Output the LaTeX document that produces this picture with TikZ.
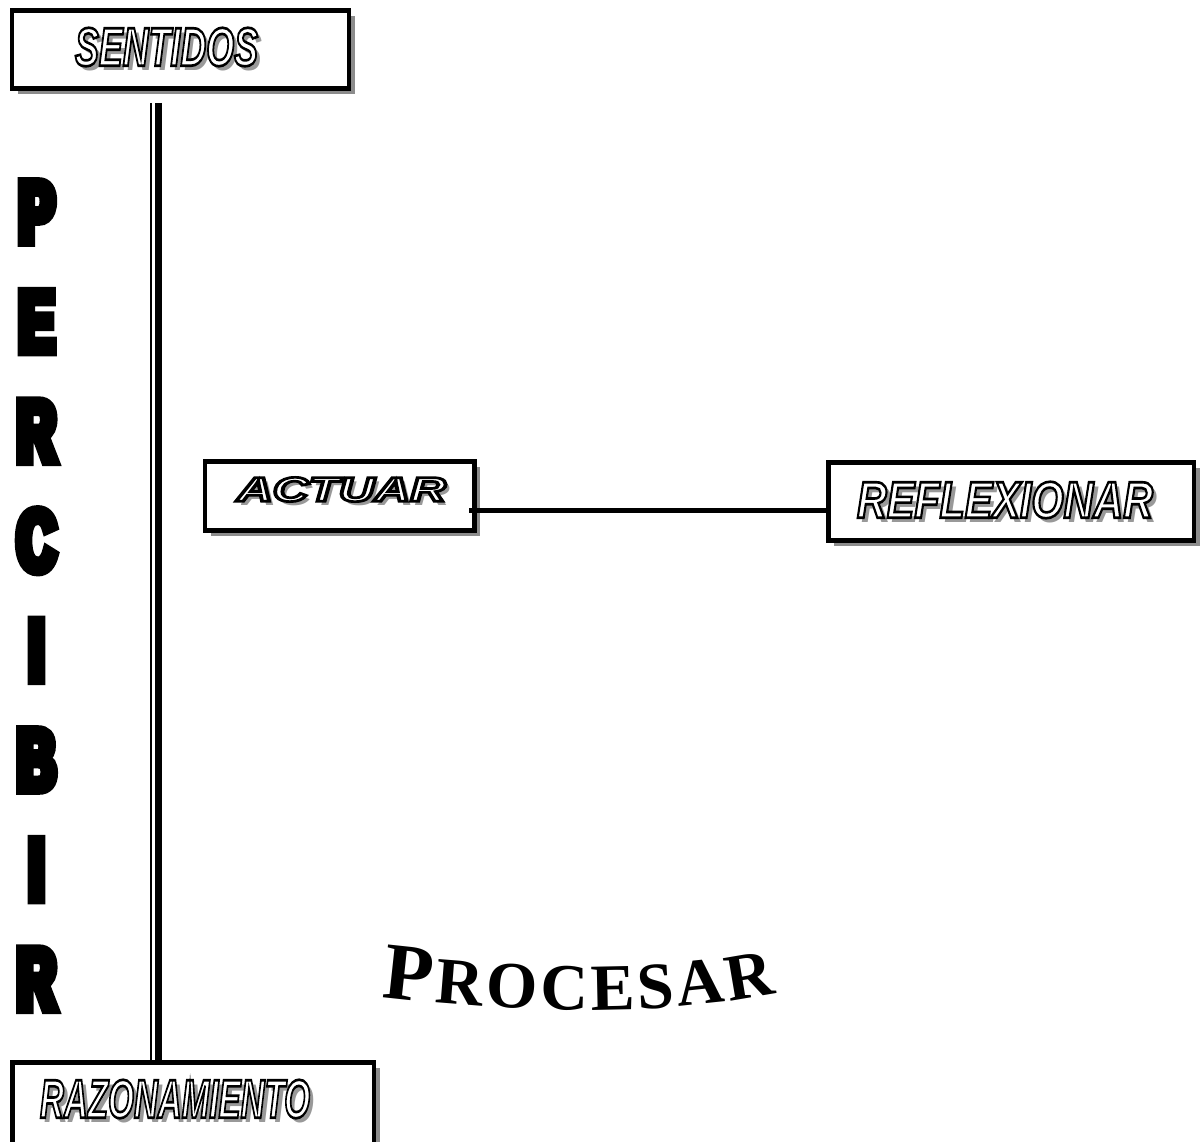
\documentclass[tikz,border=0pt]{standalone}
\usepackage{fontspec}
\usepackage{graphicx}
\usetikzlibrary{shadows,decorations.text,fadings}
\setmainfont{Liberation Serif}
\newfontfamily\boxfont{Liberation Sans}
\newfontfamily\percfont[FakeStretch=0.605]{Liberation Sans}
\newfontfamily\procfont{Liberation Serif}
\newcommand\outlineon{\special{pdf:literal direct 2 Tr 2.5 w 1 1 1 rg 0 0 0 RG}}
\newcommand\outlineoff{\special{pdf:literal direct 0 Tr 0.4 w 0 0 0 rg 0 0 0 RG}}
\newcommand\heavyon{\special{pdf:literal direct 2 Tr 10 w 0 0 0 rg 0 0 0 RG}}
\newcommand\boxword[4]{\resizebox{#1}{#2}{\boxfont\bfseries\itshape\fontsize{#3}{#3}\selectfont #4}}
\tikzset{
  boxnode/.style={draw=black, line width=4.5pt, fill=white, inner sep=0pt,
    drop shadow={shadow xshift=5.5pt, shadow yshift=-5.5pt, fill=black!45, opacity=1}},
  wordnode/.style={inner sep=0pt},
  wordshade/.style 2 args={fill=black!40, path fading=#1, fit fading=false,
    fading transform={shift={(#2)}}},
}
\begin{tikzfadingfrompicture}[name=fsent]
  \node[text=white, inner sep=0pt] {\boxword{183pt}{38pt}{51}{SENTIDOS}};
\end{tikzfadingfrompicture}
\begin{tikzfadingfrompicture}[name=fact]
  \node[text=white, inner sep=0pt] {\boxword{209pt}{24pt}{32}{ACTUAR}};
\end{tikzfadingfrompicture}
\begin{tikzfadingfrompicture}[name=frefl]
  \node[text=white, inner sep=0pt] {\boxword{296pt}{36pt}{49}{REFLEXIONAR}};
\end{tikzfadingfrompicture}
\begin{tikzfadingfrompicture}[name=fraz]
  \node[text=white, inner sep=0pt] {\boxword{270pt}{38pt}{51}{RAZONAMIENTO}};
\end{tikzfadingfrompicture}
\begin{document}
\begin{tikzpicture}[x=1pt,y=-1pt]
\path[fill=white, use as bounding box] (0,0) rectangle (1203,1142);

% boxes
\node[boxnode, minimum width=337pt, minimum height=78pt] (sent) at (180.5,49.5) {};
\node[boxnode, minimum width=269.5pt, minimum height=69pt] (act) at (339.75,496) {};
\node[boxnode, minimum width=365.5pt, minimum height=78pt] (refl) at (1011.25,501.5) {};
\node[boxnode, minimum width=361.5pt, minimum height=87.5pt] (raz) at (193.25,1106.25) {};

% grey shadows of the box words (drawn as shapes)
\coordinate (sentS) at (171,51.5);
\coordinate (actS) at (345.5,493.5);
\coordinate (reflS) at (1009.5,504.5);
\coordinate (razS) at (179.5,1103.5);
\path[wordshade={fsent}{sentS}] ([shift={(-110pt,-30pt)}]sentS) rectangle ([shift={(110pt,30pt)}]sentS);
\path[wordshade={fact}{actS}] ([shift={(-125pt,-20pt)}]actS) rectangle ([shift={(125pt,20pt)}]actS);
\path[wordshade={frefl}{reflS}] ([shift={(-170pt,-30pt)}]reflS) rectangle ([shift={(170pt,30pt)}]reflS);
\path[wordshade={fraz}{razS}] ([shift={(-155pt,-30pt)}]razS) rectangle ([shift={(155pt,30pt)}]razS);

% outlined box words
\node[wordnode] (sentT) at (166.5,47) {\outlineon\boxword{183pt}{38pt}{51}{SENTIDOS}\outlineoff};
\node[wordnode] (actT) at (341.5,489.5) {\outlineon\boxword{209pt}{24pt}{32}{ACTUAR}\outlineoff};
\node[wordnode] (reflT) at (1005,500) {\outlineon\boxword{296pt}{36pt}{49}{REFLEXIONAR}\outlineoff};
\node[wordnode] (razT) at (175,1099) {\outlineon\boxword{270pt}{38pt}{51}{RAZONAMIENTO}\outlineoff};

% double vertical line
\coordinate (dtop) at (156,103);
\draw[line width=2pt] ([xshift=-5pt]dtop) -- ([xshift=-5pt]dtop |- raz.north);
\draw[line width=7pt] ([xshift=2.5pt]dtop) -- ([xshift=2.5pt]dtop |- raz.north);

% connector ACTUAR -- REFLEXIONAR
\coordinate (cs) at (469,510);
\draw[line width=5pt] (cs) -- (cs -| refl.west);

% PERCIBIR
\node[inner sep=0pt, anchor=north, align=center,
      font=\percfont\bfseries\fontsize{86.6}{109.6}\selectfont] (perc) at (36.5,182)
  {\heavyon P\\E\\R\\C\\I\\B\\I\\R\outlineoff};

% PROCESAR on an arc
\path[decorate, decoration={text along path, text align=fit to path,
  text={|\procfont\bfseries\fontsize{81}{81}\selectfont|P|\procfont\bfseries\fontsize{66}{66}\selectfont|ROCESAR}}]
  (382,997) .. controls (515,1013) and (660,1017) .. (776,993);
\end{tikzpicture}
\end{document}
